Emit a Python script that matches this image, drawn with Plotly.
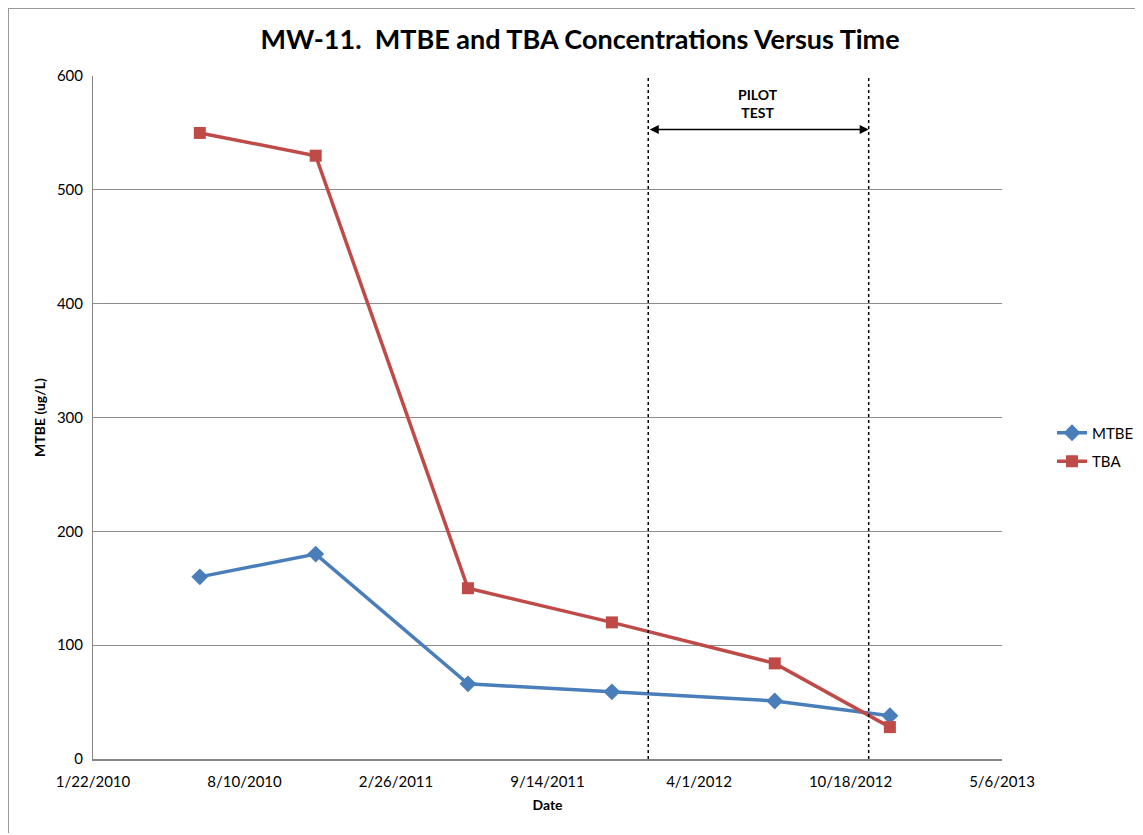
import plotly.graph_objects as go

dates = ["2010-06-12", "2010-11-12", "2011-06-01", "2011-12-08", "2012-07-10", "2012-12-09"]
mtbe = [160, 180, 66, 59, 51, 38]
tba = [550, 530, 150, 120, 84, 28]
pilot_start = "2012-01-25"
pilot_end = "2012-11-11"
x_range = ["2010-01-22", "2013-05-06"]
y_max = 600

FONT = "Lato, Calibri, Arial, sans-serif"

W, H = 1143, 835
ML, MR, MT, MB = 85, 149, 68, 84
PW, PH = W - ML - MR, H - MT - MB

fig = go.Figure()
fig.add_trace(go.Scatter(x=dates, y=mtbe, name="MTBE", mode="lines+markers", legendgroup="a",
                         line=dict(color="#4A7EBB", width=3.5),
                         marker=dict(symbol="diamond", size=13, color="#4A7EBB")))
fig.add_trace(go.Scatter(x=dates, y=tba, name="TBA", mode="lines+markers", legendgroup="b",
                         line=dict(color="#BE4B48", width=3.5),
                         marker=dict(symbol="square", size=12, color="#BE4B48")))

for d in (pilot_start, pilot_end):
    fig.add_shape(type="line", xref="x", yref="y", x0=d, x1=d, y0=0, y1=y_max,
                  line=dict(color="black", width=1.5, dash="dot"))

fig.add_annotation(x=pilot_end, y=553, ax=pilot_start, ay=553,
                   xref="x", yref="y", axref="x", ayref="y",
                   text="", showarrow=True, arrowhead=2, arrowside="end+start",
                   arrowsize=1.2, arrowwidth=1.5, arrowcolor="black")
fig.add_annotation(x="2012-06-18", y=576, xref="x", yref="y", text="<b>PILOT<br>TEST</b>",
                   showarrow=False, font=dict(family=FONT, size=14, color="black"))

# outer chart border (left and top edges)
fig.add_shape(type="line", xref="paper", yref="paper",
              x0=-ML / PW, x1=-ML / PW, y0=(H - 825 - MB) / PH, y1=(H - MB) / PH,
              line=dict(color="#9a9a9a", width=2))
fig.add_shape(type="line", xref="paper", yref="paper",
              x0=-ML / PW, x1=(W - ML) / PW, y0=(H - MB) / PH, y1=(H - MB) / PH,
              line=dict(color="#9a9a9a", width=2))

fig.update_layout(
    width=W, height=H,
    margin=dict(l=ML, r=MR, t=MT, b=MB),
    paper_bgcolor="white", plot_bgcolor="white",
    title=dict(text="<b>MW-11.  MTBE and TBA Concentrations Versus Time</b>",
               x=(572 - ML) / PW, xanchor="center", xref="paper",
               y=1 - 32 / H, yanchor="middle",
               font=dict(family=FONT, size=27, color="black")),
    font=dict(family=FONT, size=13, color="black"),
    legend=dict(x=(1052 - 8 - ML) / PW, y=(H - MB - 439) / PH, xanchor="left", yanchor="middle",
                font=dict(family=FONT, size=15), tracegroupgap=6),
    xaxis=dict(type="date", range=x_range, tick0=x_range[0], dtick=200 * 86400000,
               tickformat="%-m/%-d/%Y", showgrid=False, showline=True,
               linecolor="#868686", linewidth=2, ticks="", zeroline=False,
               ticklabelstandoff=8,
               title=dict(text="<b>Date</b>", font=dict(family=FONT, size=14), standoff=11),
               tickfont=dict(family=FONT, size=15)),
    yaxis=dict(range=[0, y_max], dtick=100, showgrid=True, gridcolor="#8c8c8c",
               gridwidth=1, showline=True, linecolor="#868686", linewidth=1,
               zeroline=False, ticks="", ticklabelstandoff=6,
               title=dict(text="<b>MTBE (ug/L)</b>", font=dict(family=FONT, size=14), standoff=7),
               tickfont=dict(family=FONT, size=15)),
)

fig.write_html("out.html")
